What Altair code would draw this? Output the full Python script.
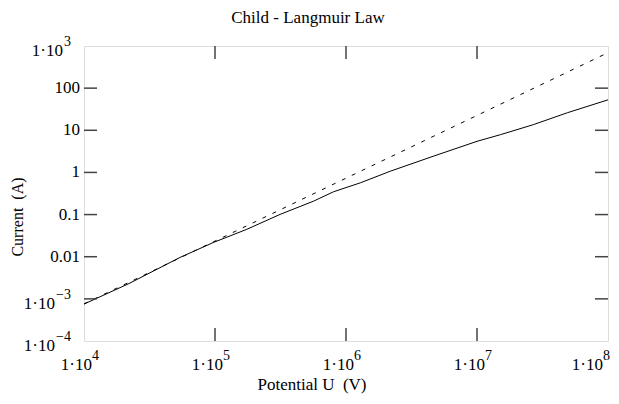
import altair as alt
import pandas as pd

# ---- data ----
U_solid = [1e4, 2.2e4, 5.4e4, 9.7e4, 1.75e5, 3.14e5, 5.65e5, 8.04e5, 1.29e6,
           2.18e6, 4.63e6, 1.0e7, 1.51e7, 2.69e7, 4.9e7, 1.0e8]
I_solid = [7.5e-4, 2.3e-3, 9.6e-3, 0.0217, 0.0447, 0.101, 0.208, 0.348, 0.568,
           1.07, 2.42, 5.47, 7.87, 13.6, 26.1, 52.8]

U_cl = [1e4, 1e5, 1e6, 1e7, 1e8]
I_cl = [7.6e-4, 0.0235, 0.73, 22.5, 695]

x_tick_values = [1e5, 1e6, 1e7]
y_tick_values = [1e-3, 1e-2, 1e-1, 1, 10, 100]

x_label_values = [1e4, 1e5, 1e6, 1e7, 1e8]
x_label_base = ["1·10", "1·10", "1·10", "1·10", "1·10"]
x_label_exp = ["4", "5", "6", "7", "8"]

y_plain_values = [100, 10, 1, 0.1, 0.01]
y_plain_text = ["100", "10", "1", "0.1", "0.01"]
y_exp_values = [1e3, 1e-3, 1e-4]
y_exp_base = ["1·10", "1·10", "1·10"]
y_exp_text = ["3", "−3", "−4"]

title_text = "Child - Langmuir Law"
x_title = "Potential U\u00a0 (V)"
y_title = "Current\u00a0 (A)"

# ---- layout ----
W, H = 524, 295
FONT = "Liberation Serif"
TICK = 13
LBL = 17
EXP = 14

xs = alt.Scale(type="log", domain=[1e4, 1e8], nice=False)
ys = alt.Scale(type="log", domain=[1e-4, 1e3], nice=False)

df_s = pd.DataFrame({"U": U_solid, "I": I_solid})
df_c = pd.DataFrame({"U": U_cl, "I": I_cl})
df_xt = pd.DataFrame({"v": x_tick_values})
df_yt = pd.DataFrame({"v": y_tick_values})
df_xl = pd.DataFrame({"v": x_label_values, "b": x_label_base, "e": x_label_exp})
df_yp = pd.DataFrame({"v": y_plain_values, "t": y_plain_text})
df_ye = pd.DataFrame({"v": y_exp_values, "b": y_exp_base, "e": y_exp_text})

X = lambda f: alt.X(f, scale=xs, axis=None)
Y = lambda f: alt.Y(f, scale=ys, axis=None)

solid = alt.Chart(df_s).mark_line(color="black", strokeWidth=1).encode(
    x=X("U:Q"), y=Y("I:Q"), order="U:Q")
dashed = alt.Chart(df_c).mark_line(color="black", strokeWidth=1, strokeDash=[4, 7]).encode(
    x=X("U:Q"), y=Y("I:Q"), order="U:Q")

tick_style = dict(color="#444", strokeWidth=1.5)
xt_bottom = alt.Chart(df_xt).mark_rule(**tick_style).encode(
    x=X("v:Q"), y=alt.value(H), y2=alt.value(H - TICK))
xt_top = alt.Chart(df_xt).mark_rule(**tick_style).encode(
    x=X("v:Q"), y=alt.value(0), y2=alt.value(TICK))
yt_left = alt.Chart(df_yt).mark_rule(**tick_style).encode(
    y=Y("v:Q"), x=alt.value(0), x2=alt.value(TICK))
yt_right = alt.Chart(df_yt).mark_rule(**tick_style).encode(
    y=Y("v:Q"), x=alt.value(W - TICK), x2=alt.value(W))

txt = dict(font=FONT, color="black")
XB, XE = H + 24, H + 15
xl = alt.Chart(df_xl)
xl_base = xl.transform_filter("datum.v < 1e8").mark_text(
    align="right", baseline="middle", dx=8, fontSize=LBL, **txt).encode(
    x=X("v:Q"), y=alt.value(XB), text="b:N")
xl_exp = xl.transform_filter("datum.v < 1e8").mark_text(
    align="left", baseline="middle", dx=8, fontSize=EXP, **txt).encode(
    x=X("v:Q"), y=alt.value(XE), text="e:N")
xl_base_last = xl.transform_filter("datum.v >= 1e8").mark_text(
    align="right", baseline="middle", dx=-5, fontSize=LBL, **txt).encode(
    x=X("v:Q"), y=alt.value(XB), text="b:N")
xl_exp_last = xl.transform_filter("datum.v >= 1e8").mark_text(
    align="left", baseline="middle", dx=-5, fontSize=EXP, **txt).encode(
    x=X("v:Q"), y=alt.value(XE), text="e:N")

yp = alt.Chart(df_yp).mark_text(align="right", baseline="middle", fontSize=LBL, **txt).encode(
    y=Y("v:Q"), x=alt.value(-4), text="t:N")
ye = alt.Chart(df_ye)
ye_exp = ye.mark_text(align="right", baseline="middle", dy=-4, fontSize=EXP, **txt).encode(
    y=Y("v:Q"), x=alt.value(-13), text="e:N")
ye_base1 = ye.transform_filter("length(datum.e) == 1").mark_text(
    align="right", baseline="middle", dy=5, fontSize=LBL, **txt).encode(
    y=Y("v:Q"), x=alt.value(-21), text="b:N")
ye_base2 = ye.transform_filter("length(datum.e) > 1").mark_text(
    align="right", baseline="middle", dy=5, fontSize=LBL, **txt).encode(
    y=Y("v:Q"), x=alt.value(-29), text="b:N")

title = alt.Chart(pd.DataFrame({"t": [title_text]})).mark_text(
    align="center", baseline="middle", fontSize=17, **txt).encode(
    x=alt.value(224), y=alt.value(-28), text="t:N")
xtitle = alt.Chart(pd.DataFrame({"t": [x_title]})).mark_text(
    align="center", baseline="middle", fontSize=17, **txt).encode(
    x=alt.value(228), y=alt.value(H + 44), text="t:N")
ytitle = alt.Chart(pd.DataFrame({"t": [y_title]})).mark_text(
    align="center", baseline="middle", fontSize=16, angle=270, **txt).encode(
    x=alt.value(-66), y=alt.value(171), text="t:N")

chart = alt.layer(
    dashed, solid, xt_bottom, xt_top, yt_left, yt_right,
    xl_base, xl_exp, xl_base_last, xl_exp_last,
    yp, ye_exp, ye_base1, ye_base2, title, xtitle, ytitle,
).properties(
    width=W, height=H,
    autosize=alt.AutoSizeParams(type="none"),
    padding={"left": 76, "top": 38, "right": 3, "bottom": 53},
).configure_view(stroke="#333", strokeWidth=1.5).configure(background="white")

chart.save("out.html", embed_options={"renderer": "svg", "actions": False})
